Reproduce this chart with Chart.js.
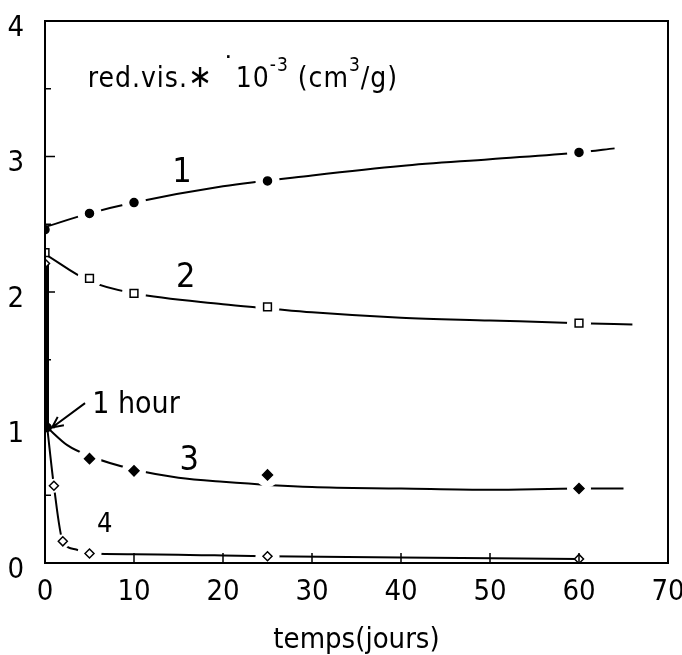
<!DOCTYPE html>
<html>
<head>
<meta charset="utf-8">
<script src="https://cdn.jsdelivr.net/npm/chart.js@4.4.1/dist/chart.umd.min.js"></script>
<style>
  html, body { margin: 0; padding: 0; background: #fff; }
</style>
</head>
<body>
<canvas id="chart" width="682" height="655"></canvas>
<script>
// measured points: days vs red. vis. (x 10^-3 cm3/g)
const days = [0, 5, 10, 25, 60];
const visc1 = [2.46, 2.58, 2.66, 2.82, 3.03];
const visc2 = [2.29, 2.10, 1.99, 1.89, 1.77];
const days3 = [5, 10, 25, 60];
const visc3 = [0.77, 0.68, 0.65, 0.55];
const days4 = [0, 1, 2, 5, 25, 60];
const visc4 = [2.21, 0.57, 0.16, 0.07, 0.05, 0.03];
const hourDay = [0.25];
const hourVisc = [1.0];

// drawn curves
const fit1X = [0, 5, 10, 20, 30, 40, 50, 60, 64];
const fit1Y = [2.48, 2.58, 2.66, 2.78, 2.86, 2.93, 2.98, 3.03, 3.06];
const fit2X = [0, 5, 10, 20, 25, 30, 40, 50, 60, 66];
const fit2Y = [2.28, 2.08, 1.99, 1.91, 1.88, 1.85, 1.81, 1.79, 1.77, 1.76];
const fit3X = [0.25, 2.5, 5, 10, 15, 20, 30, 40, 50, 60, 65];
const fit3Y = [1.0, 0.87, 0.79, 0.69, 0.63, 0.60, 0.56, 0.55, 0.54, 0.55, 0.55];
const fit4X = [0.25, 1, 2, 3.5, 5, 10, 25, 40, 60];
const fit4Y = [1.0, 0.57, 0.16, 0.10, 0.07, 0.065, 0.05, 0.04, 0.03];
const dropX = [0.25, 0.25];
const dropY = [2.21, 1.0];

const xTicks = [0, 10, 20, 30, 40, 50, 60, 70];
const yTicks = [0, 1, 2, 3, 4];
const curveLabels = ['1', '2', '3', '4'];

const FONT = '"DejaVu Sans Condensed", "DejaVu Sans", sans-serif';

const pts = (xs, ys) => xs.map((x, i) => ({ x, y: ys[i] }));

function curve(xs, ys, width) {
  return {
    data: pts(xs, ys),
    showLine: true,
    borderColor: '#000',
    borderWidth: width || 2,
    pointRadius: 0,
    cubicInterpolationMode: 'monotone',
    order: 3,
  };
}

function halo(xs, ys) {
  return {
    data: pts(xs, ys),
    showLine: false,
    pointRadius: ctx => (ctx.raw && ctx.raw.x >= 5 ? 12 : 7),
    pointBackgroundColor: '#fff',
    pointBorderWidth: 0,
    order: 2,
  };
}

function markers(xs, ys, style, filled, r) {
  return {
    data: pts(xs, ys),
    showLine: false,
    pointStyle: style,
    pointRadius: r,
    pointBackgroundColor: filled ? '#000' : '#fff',
    pointBorderColor: '#000',
    pointBorderWidth: 1.5,
    order: 1,
  };
}

const frame = {
  id: 'frame',
  afterDatasetsDraw(chart) {
    const { ctx, chartArea: a, scales: { x, y } } = chart;
    ctx.save();
    ctx.strokeStyle = '#000';
    ctx.lineWidth = 2;
    ctx.strokeRect(a.left, a.top, a.right - a.left, a.bottom - a.top);
    ctx.lineWidth = 1.5;
    ctx.beginPath();
    for (let v = 0.5; v < 4; v += 0.5) {
      const py = y.getPixelForValue(v);
      const len = Number.isInteger(v) ? 10 : 6;
      ctx.moveTo(a.left, py);
      ctx.lineTo(a.left + len, py);
    }
    xTicks.slice(1, -1).forEach(v => {
      const px = x.getPixelForValue(v);
      ctx.moveTo(px, a.bottom);
      ctx.lineTo(px, a.bottom - 10);
    });
    ctx.stroke();

    // labels inside the plot
    ctx.fillStyle = '#000';
    ctx.textBaseline = 'alphabetic';
    ctx.textAlign = 'left';
    const big = '28px ' + FONT;
    const small = '19px ' + FONT;
    ctx.letterSpacing = '1px';
    let cx = x.getPixelForValue(4.8);
    const by = y.getPixelForValue(3.51);
    const put = (txt, font, dy) => {
      ctx.font = font;
      ctx.fillText(txt, cx, by + (dy || 0));
      cx += ctx.measureText(txt).width;
    };
    put('red.vis.', big);
    put('\u2217', '32px ' + FONT, 0);
    put(' ', big);
    put('\u02d9', big, -10);
    put('10', big);
    put('-3', small, -16);
    put(' (cm', big);
    put('3', small, -16);
    put('/g)', big);

    ctx.letterSpacing = '0px';
    ctx.textAlign = 'center';
    ctx.textBaseline = 'middle';
    const spots = [[15.4, 2.88], [15.8, 2.10], [16.2, 0.75], [6.7, 0.28]];
    curveLabels.forEach((t, i) => {
      ctx.font = (i === 3 ? '27px ' : '34px ') + FONT;
      ctx.fillText(t, x.getPixelForValue(spots[i][0]), y.getPixelForValue(spots[i][1]));
    });

    ctx.font = '30px ' + FONT;
    ctx.textAlign = 'left';
    ctx.textBaseline = 'alphabetic';
    ctx.fillText('1 hour', x.getPixelForValue(5.3), y.getPixelForValue(1.11));

    // arrow to the 1 hour point
    const x0 = x.getPixelForValue(4.5), y0 = y.getPixelForValue(1.18);
    const x1 = x.getPixelForValue(0.8), y1 = y.getPixelForValue(1.0);
    const ang = Math.atan2(y1 - y0, x1 - x0);
    ctx.lineWidth = 2;
    ctx.beginPath();
    ctx.moveTo(x0, y0);
    ctx.lineTo(x1, y1);
    ctx.moveTo(x1 - 12 * Math.cos(ang - 0.45), y1 - 12 * Math.sin(ang - 0.45));
    ctx.lineTo(x1, y1);
    ctx.lineTo(x1 - 12 * Math.cos(ang + 0.45), y1 - 12 * Math.sin(ang + 0.45));
    ctx.stroke();
    ctx.restore();
  },
};

new Chart(document.getElementById('chart'), {
  type: 'scatter',
  data: {
    datasets: [
      curve(fit1X, fit1Y),
      curve(fit2X, fit2Y),
      curve(fit3X, fit3Y),
      curve(fit4X, fit4Y),
      curve(dropX, dropY, 3.5),
      halo(days.slice(1), visc1.slice(1)),
      halo(days.slice(1), visc2.slice(1)),
      halo(days3, visc3),
      halo(days4.slice(1, -1), visc4.slice(1, -1)),
      markers(days, visc1, 'circle', true, 4),
      markers(days, visc2, 'rect', false, 5.5),
      markers(days3, visc3, 'rectRot', true, 5),
      markers(days4, visc4, 'rectRot', false, 4.5),
      markers(hourDay, hourVisc, 'circle', true, 4),
    ],
  },
  options: {
    responsive: false,
    animation: false,
    devicePixelRatio: 1,
    layout: { padding: { top: 21, right: 14, left: 0, bottom: 0 } },
    plugins: { legend: { display: false }, tooltip: { enabled: false } },
    scales: {
      x: {
        type: 'linear',
        min: 0,
        max: 70,
        afterBuildTicks: s => { s.ticks = xTicks.map(v => ({ value: v })); },
        afterFit: s => { s.height = 92; s.paddingLeft = 0; s.paddingRight = 0; },
        grid: { display: false, drawTicks: false },
        border: { display: false },
        ticks: { color: '#000', padding: 12, font: { family: FONT, size: 29 } },
        title: {
          display: true,
          text: 'temps(jours)',
          color: '#000',
          font: { family: FONT, size: 29, lineHeight: 1 },
          padding: { top: 0, bottom: 0 },
        },
      },
      y: {
        type: 'linear',
        min: 0,
        max: 4,
        afterBuildTicks: s => { s.ticks = yTicks.map(v => ({ value: v })); },
        afterFit: s => { s.width = 45; s.paddingTop = 0; s.paddingBottom = 0; },
        grid: { display: false, drawTicks: false },
        border: { display: false },
        ticks: { color: '#000', padding: 21, labelOffset: 7, font: { family: FONT, size: 29 } },
      },
    },
  },
  plugins: [frame],
});
</script>
</body>
</html>
